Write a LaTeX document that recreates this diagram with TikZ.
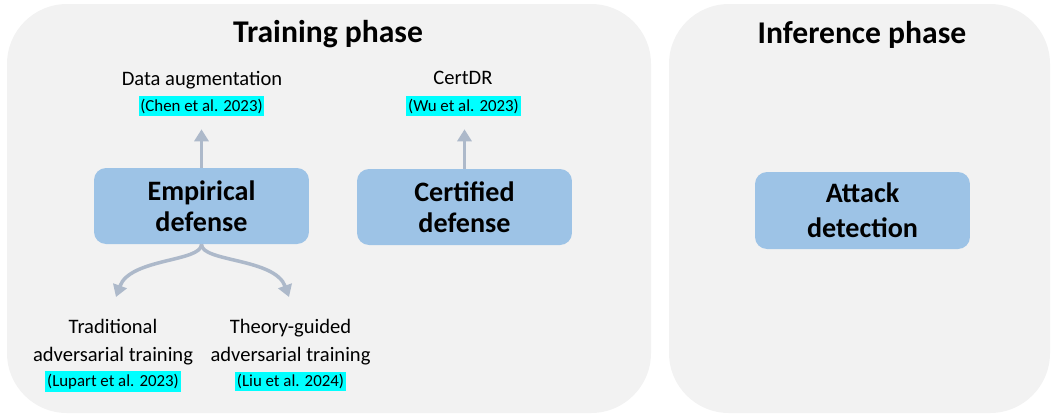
\documentclass[tikz,border=0pt]{standalone}
\usepackage{fontspec}
\setmainfont{Carlito}
\usetikzlibrary{arrows.meta}
\definecolor{fondo}{HTML}{F2F2F2}
\definecolor{azulcaja}{HTML}{9DC3E6}
\definecolor{flechagris}{HTML}{ADB9CA}
\definecolor{resalte}{HTML}{00FFFF}

\begin{document}
\begin{tikzpicture}[x=0.02cm, y=-0.02cm,
    fase/.style={fill=fondo, rounded corners=1.2cm},
    titulo/.style={anchor=base, font=\bfseries\fontsize{18}{21}\selectfont},
    caja/.style={fill=azulcaja, rounded corners=0.24cm, minimum width=4.3cm, minimum height=1.52cm,
        align=center, font=\bfseries\fontsize{16}{17.6}\selectfont},
    etiqueta/.style={anchor=base, align=center, font=\fontsize{11.7}{15.9}\selectfont},
    cita/.style={fill=resalte, inner xsep=1pt, inner ysep=1.5pt, font=\fontsize{9.6}{11}\selectfont},
    flecha/.style={-{Triangle[length=6.8pt,width=8pt]}, draw=flechagris, line width=2pt}]
    \useasboundingbox (0,0) rectangle (1051,414);

    % Fondos de las dos fases
    \fill[fase] (7,4) rectangle (651,413);
    \fill[fase] (669,4) rectangle (1050,413);

    % Titulos
    \node[titulo] (tEntr) at (328,42) {Training phase};
    \node[titulo] (tInf) at (862,43) {Inference phase};

    % Cajas principales
    \node[caja] (emp) at (201.5,206) {Empirical\\defense};
    \node[caja] (cert) at (464.5,207) {Certified\\defense};
    \node[caja, minimum height=1.54cm, font=\bfseries\fontsize{16}{19.8}\selectfont] (det) at (862.5,210.5) {Attack\\detection};

    % Metodos y referencias
    \node[etiqueta] (aum) at (202,85) {Data augmentation};
    \node[cita] (chen) at (201.5,106) {(Chen et al. 2023)};
    \node[etiqueta] (certdr) at (463,84) {CertDR};
    \node[cita] (wu) at (463.5,106) {(Wu et al. 2023)};
    \node[etiqueta] (trad) at (113,361) {Traditional\\adversarial training};
    \node[cita] (lupart) at (113,381.5) {(Lupart et al. 2023)};
    \node[etiqueta] (teor) at (290.5,361) {Theory-guided\\adversarial training};
    \node[cita] (liu) at (290.5,381.5) {(Liu et al. 2024)};

    % Flechas hacia arriba
    \draw[flecha, shorten >=0.26cm] (emp.north) -- (chen.south);
    \draw[flecha, shorten >=0.26cm] (cert.north) -- (cert.north |- wu.south);

    % Flechas curvas hacia abajo
    \coordinate (puntaIzq) at (116,297);
    \coordinate (puntaDer) at (289,297);
    \draw[flecha] (emp.south) .. controls (201.5,262) and (130,258) .. (puntaIzq);
    \draw[flecha] (emp.south) .. controls (201.5,262) and (275,258) .. (puntaDer);
\end{tikzpicture}
\end{document}
